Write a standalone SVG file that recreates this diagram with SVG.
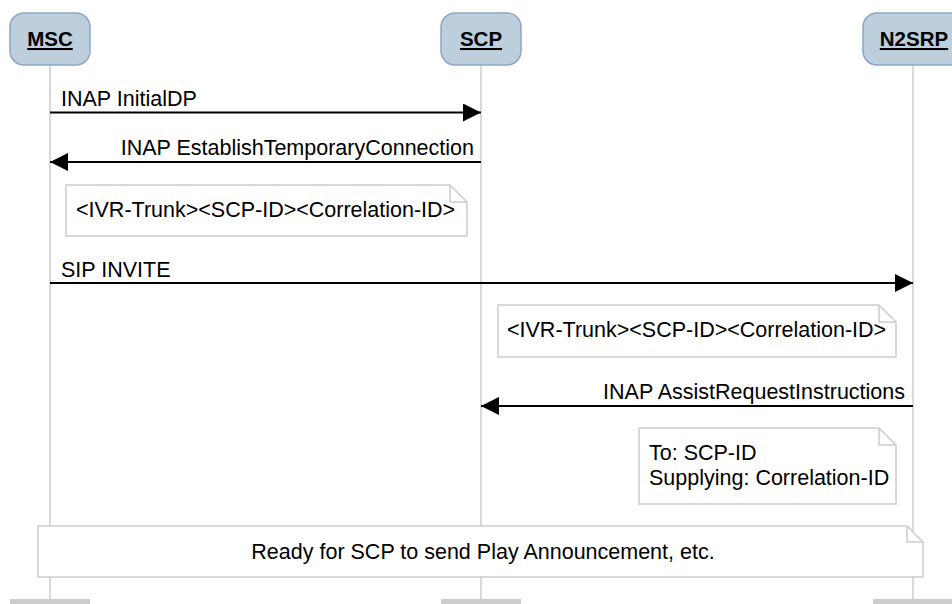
<svg xmlns="http://www.w3.org/2000/svg" width="952" height="604" viewBox="0 0 952 604">
<style>
  .hdr { fill: #bdcedc; stroke: #8fa5c8; stroke-width: 1.5; }
  .hdrtxt { font-family: "Liberation Sans", Arial, sans-serif; font-size: 20.5px; font-weight: bold; fill: #000; text-anchor: middle; text-decoration: underline; }
  .life { stroke: #cccccc; stroke-width: 1.5; fill: none; }
  .bar { fill: #cccccc; }
  .msg { stroke: #000; stroke-width: 2; fill: none; marker-end: url(#arr); }
  .lbl { font-family: "Liberation Sans", Arial, sans-serif; font-size: 21.5px; fill: #000; }
  .note { fill: #fff; stroke: #cccccc; stroke-width: 1.5; }
  .fold { fill: none; stroke: #cccccc; stroke-width: 1.5; }
</style>
<defs>
  <marker id="arr" viewBox="0 0 18 18" refX="18" refY="9" markerWidth="18" markerHeight="18" markerUnits="userSpaceOnUse" orient="auto">
    <path d="M0,0 L18,9 L0,18 Z" fill="#000"/>
  </marker>
</defs>
<rect width="952" height="604" fill="#fff"/>

<g id="lifelines">
  <line class="life" x1="50" y1="65" x2="50" y2="600"/>
  <line class="life" x1="481" y1="65" x2="481" y2="600"/>
  <line class="life" x1="913" y1="65" x2="913" y2="600"/>
  <rect class="bar" x="10" y="599" width="80" height="5"/>
  <rect class="bar" x="441" y="599" width="80" height="5"/>
  <rect class="bar" x="873" y="599" width="80" height="5"/>
</g>

<g id="node-MSC">
  <rect class="hdr" x="10" y="13" width="80" height="52" rx="14"/>
  <text class="hdrtxt" x="50" y="46">MSC</text>
</g>
<g id="node-SCP">
  <rect class="hdr" x="441" y="13" width="80" height="52" rx="14"/>
  <text class="hdrtxt" x="481" y="46">SCP</text>
</g>
<g id="node-N2SRP">
  <rect class="hdr" x="863" y="13" width="102" height="52" rx="14"/>
  <text class="hdrtxt" x="914" y="46">N2SRP</text>
</g>

<g id="connectors">
  <line class="msg" x1="50" y1="112.5" x2="481" y2="112.5"/>
  <text class="lbl" x="61" y="106">INAP InitialDP</text>
  <line class="msg" x1="481" y1="162" x2="50" y2="162"/>
  <text class="lbl" x="474" y="155" text-anchor="end">INAP EstablishTemporaryConnection</text>
  <line class="msg" x1="50" y1="283" x2="913" y2="283"/>
  <text class="lbl" x="61" y="277">SIP INVITE</text>
  <line class="msg" x1="913" y1="406" x2="481" y2="406"/>
  <text class="lbl" x="905" y="399" text-anchor="end">INAP AssistRequestInstructions</text>
</g>

<g id="note-1">
  <path class="note" d="M66,185 H450 L467,202 V236 H66 Z"/>
  <path class="fold" d="M450,185 V202 H467"/>
  <text class="lbl" x="76" y="217">&lt;IVR-Trunk&gt;&lt;SCP-ID&gt;&lt;Correlation-ID&gt;</text>
</g>
<g id="note-2">
  <path class="note" d="M498,305 H879 L896,322 V357 H498 Z"/>
  <path class="fold" d="M879,305 V322 H896"/>
  <text class="lbl" x="507" y="337">&lt;IVR-Trunk&gt;&lt;SCP-ID&gt;&lt;Correlation-ID&gt;</text>
</g>
<g id="note-3">
  <path class="note" d="M639,428 H879 L896,445 V504 H639 Z"/>
  <path class="fold" d="M879,428 V445 H896"/>
  <text class="lbl" x="649" y="460">To: SCP-ID</text>
  <text class="lbl" x="649" y="485">Supplying: Correlation-ID</text>
</g>
<g id="note-4">
  <path class="note" d="M38,526 H907 L923,542 V577 H38 Z"/>
  <path class="fold" d="M907,526 V542 H923"/>
  <text class="lbl" x="483" y="559" text-anchor="middle">Ready for SCP to send Play Announcement, etc.</text>
</g>
</svg>
